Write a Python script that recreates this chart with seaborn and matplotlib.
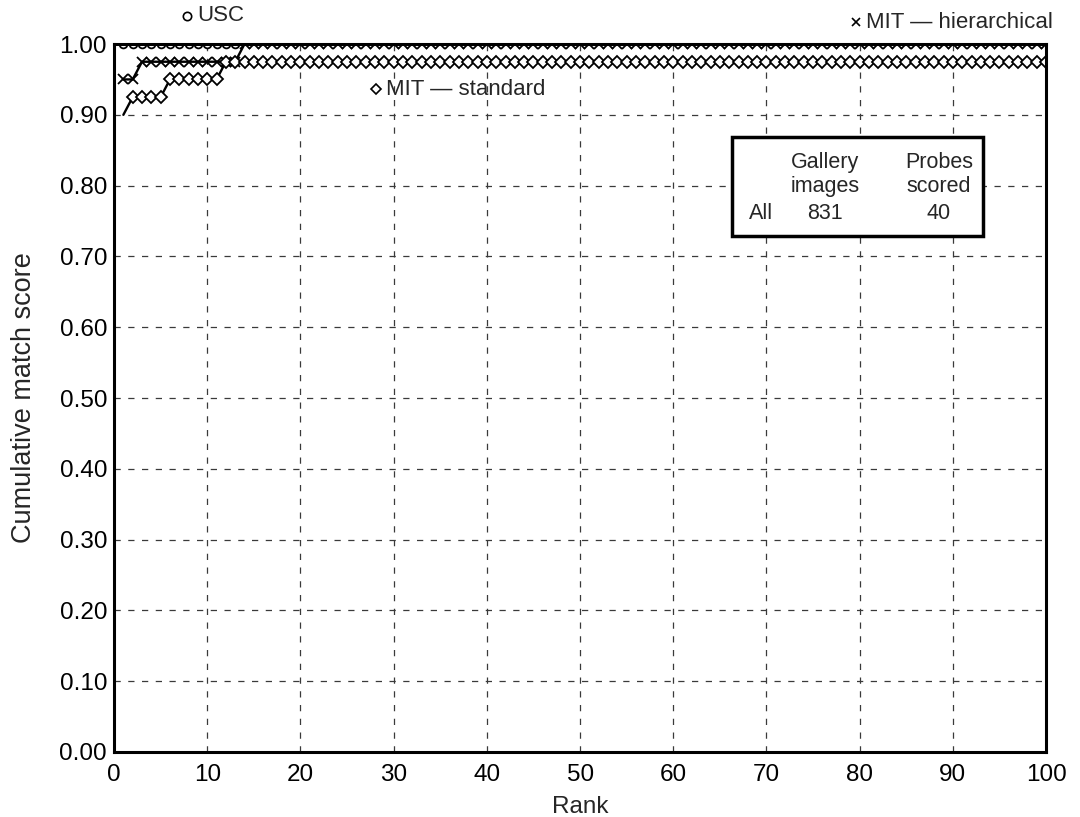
import numpy as np
import pandas as pd
import matplotlib
matplotlib.use("Agg")
import matplotlib.pyplot as plt
from matplotlib.patches import Rectangle
import seaborn as sns

# Cumulative match scores per rank, stored as runs of equal value
ranks = np.arange(1, 101)
usc_levels = [1.000]
usc_counts = [100]
hier_levels = [0.950, 0.975, 1.000]
hier_counts = [2, 11, 87]
std_levels = [0.900, 0.925, 0.950, 0.975]
std_counts = [1, 4, 6, 89]

series_names = ["USC", "MIT — hierarchical", "MIT — standard"]

# Summary table
table_header = ["", "Gallery\nimages", "Probes\nscored"]
table_row = ["All", "831", "40"]

x_ticks = [0, 10, 20, 30, 40, 50, 60, 70, 80, 90, 100]
y_ticks = [0.0, 0.1, 0.2, 0.3, 0.4, 0.5, 0.6, 0.7, 0.8, 0.9, 1.0]

frames = []
for name, lv, ct in [(series_names[0], usc_levels, usc_counts),
                     (series_names[1], hier_levels, hier_counts),
                     (series_names[2], std_levels, std_counts)]:
    frames.append(pd.DataFrame({"rank": ranks,
                                "score": np.repeat(lv, ct),
                                "method": name}))
df = pd.concat(frames, ignore_index=True)

sns.set_style("white")
plt.rcParams["font.family"] = ["Liberation Sans", "DejaVu Sans"]

fig = plt.figure(figsize=(10.8, 8.17), dpi=100)
ax = fig.add_axes([0.1056, 0.0796, 0.8630, 0.8665])

styles = {
    "USC": dict(marker="o", ms=5.6, markevery=list(range(0, 13))),
    "MIT — hierarchical": dict(marker="x", ms=6.8, markevery=None),
    "MIT — standard": dict(marker="D", ms=6.0, markevery=list(range(1, 100))),
}
for name in series_names:
    st = styles[name]
    sub = df[df["method"] == name]
    sns.lineplot(data=sub, x="rank", y="score", ax=ax, estimator=None,
                 color="black", lw=1.7, marker=st["marker"], ms=st["ms"],
                 mfc="white", mec="black", mew=1.3,
                 markevery=st["markevery"], legend=False, zorder=3)

ax.set_xlim(0, 100)
ax.set_ylim(0, 1.0)
ax.set_xticks(x_ticks)
ax.set_yticks(y_ticks)
ax.set_yticklabels([f"{v:.2f}" for v in y_ticks])
ax.grid(True, ls=(0, (5, 6)), color="#3a3a3a", lw=0.9)
ax.tick_params(direction="in", length=5, width=1.2, labelsize=17.5,
               colors="black")
ax.tick_params(axis="x", pad=9)
ax.tick_params(axis="y", pad=5)
for sp in ax.spines.values():
    sp.set_linewidth(2.2)
    sp.set_color("black")
    sp.set_zorder(4)

ax.set_xlabel("Rank", fontsize=17.5, labelpad=7)
ax.set_ylabel("Cumulative match score", fontsize=19.5, labelpad=16)

# Series labels with their markers
mk_kw = dict(mfc="white", mec="black", mew=1.2, ls="none", clip_on=False,
             zorder=6)
ax.plot([7.83], [1.040], marker="o", ms=6, **mk_kw)
ax.text(8.9, 1.040, "USC", fontsize=16, va="center", ha="left",
        clip_on=False, zorder=6)
ax.plot([28.1], [0.936], marker="D", ms=5, **mk_kw)
ax.text(29.2, 0.936, "MIT — standard", fontsize=16, va="center", ha="left",
        clip_on=False, zorder=6)

# Right-hand label: text ends near the figure edge, marker just before it
hier_txt = fig.text(1053 / 1080, 1 - 22 / 817, "MIT — hierarchical",
                    fontsize=16, va="center", ha="right", zorder=6)
fig.canvas.draw()
bb = hier_txt.get_window_extent()
mx_px = bb.x0 - 10
my_px = (bb.y0 + bb.y1) / 2
mx, my = ax.transData.inverted().transform((mx_px, my_px))
ax.plot([mx], [my], marker="x", ms=5.5, **mk_kw)

# Table box
ax.add_patch(Rectangle((66.3, 0.729), 26.9, 0.140, fill=True, fc="white",
                       ec="black", lw=2.5, zorder=5))
col_x = [69.4, 76.3, 88.5]
for cx, h in zip(col_x, table_header):
    if h:
        ax.text(cx, 0.816, h, fontsize=15.5, ha="center", va="center",
                linespacing=1.2, zorder=6)
for cx, v in zip(col_x, table_row):
    ax.text(cx, 0.760, v, fontsize=15.5, ha="center", va="center", zorder=6)

fig.savefig("out.png", dpi=100)
